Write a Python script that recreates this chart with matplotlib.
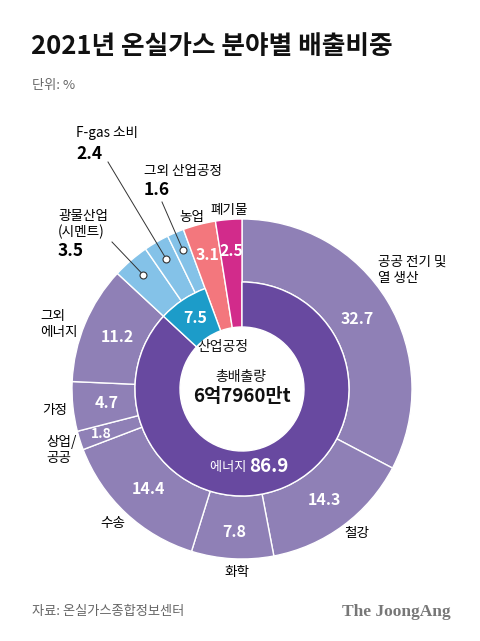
import numpy as np
import matplotlib
matplotlib.use("Agg")
import matplotlib.pyplot as plt

plt.rcParams['font.family'] = ['Noto Sans CJK KR', 'DejaVu Sans']

# ---- data ----
outer_labels = ['공공 전기 및\n열 생산', '철강', '화학', '수송', '상업/\n공공', '가정', '그외\n에너지',
                '광물산업\n(시멘트)', 'F-gas 소비', '그외 산업공정', '농업', '폐기물']
outer_values = [32.7, 14.3, 7.8, 14.4, 1.8, 4.7, 11.2, 3.5, 2.4, 1.6, 3.1, 2.5]
inner_labels = ['에너지', '산업공정', '농업', '폐기물']
inner_values = [86.9, 7.5, 3.1, 2.5]
total_label = '총배출량'
total_value = '6억7960만t'
title = '2021년 온실가스 분야별 배출비중'
unit = '단위: %'
source = '자료: 온실가스종합정보센터'
brand = 'The JoongAng'

# ---- style ----
W, H = 480, 641
C_OUT = '#8f80b6'
C_EN = '#6849a0'
C_IP = '#1c9cc9'
C_IPL = '#84c2e8'
C_AG = '#f3777d'
C_WA = '#d22b8b'
outer_colors = [C_OUT] * 7 + [C_IPL] * 3 + [C_AG, C_WA]
inner_colors = [C_EN, C_IP, C_AG, C_WA]

cx, cy = 242, H - 389
R1, R2, R0 = 170, 107, 62

def Y(py):
    return H - py

fig = plt.figure(figsize=(W / 100, H / 100), dpi=100)
ax = fig.add_axes([0, 0, 1, 1])

ow, _ = ax.pie(outer_values, radius=R1, center=(cx, cy), startangle=90, counterclock=False,
               colors=outer_colors, normalize=True,
               wedgeprops=dict(width=R1 - R2, edgecolor='white', linewidth=1.0))
for w in ow[-2:]:
    w.set_width(R1 - R0)
iw, _ = ax.pie(inner_values, radius=R2, center=(cx, cy), startangle=90, counterclock=False,
               colors=inner_colors, normalize=True,
               wedgeprops=dict(width=R2 - R0, edgecolor='white', linewidth=1.0))
for w in iw[-2:]:
    w.set_visible(False)

ax.set_xlim(0, W)
ax.set_ylim(0, H)
ax.set_aspect('equal')
ax.axis('off')

def pos(values, i, r):
    tot = sum(values)
    start = sum(values[:i])
    mid = (start + values[i] / 2) / tot * 2 * np.pi
    return cx + r * np.sin(mid), cy + r * np.cos(mid)

# value labels in outer ring (white)
val_r = [135, 138, 143, 137, 148, 136, 135, None, None, None, 138, 138]
val_fs = [11.5, 11.5, 11.5, 11.5, 10, 11.5, 11.5, None, None, None, 11.5, 11.5]
for i, v in enumerate(outer_values):
    if val_r[i] is None:
        continue
    x, y = pos(outer_values, i, val_r[i])
    ax.text(x, y, f'{v}', color='white', fontsize=val_fs[i], fontweight='bold',
            ha='center', va='center')

# inner labels
x, y = pos(inner_values, 1, 85)
ax.text(x, y, f'{inner_values[1]}', color='white', fontsize=11.5, fontweight='bold',
        ha='center', va='center')
ax.text(223, Y(347), inner_labels[1], fontsize=10, ha='center', va='center', color='#111111')
ax.text(249, Y(468), inner_labels[0] + ' ', fontsize=9.5, ha='right', va='center', color='white')
ax.text(249, Y(467), f'{inner_values[0]}', fontsize=13.5, fontweight='bold', ha='left',
        va='center', color='white')

# centre
ax.text(241, Y(377), total_label, fontsize=10, ha='center', va='center', color='#111111')
ax.text(242, Y(396), total_value, fontsize=13.5, fontweight='heavy', ha='center', va='center',
        color='#111111')

# outer category labels
lab_fs = 9.8
ax.text(378, Y(270), outer_labels[0], fontsize=lab_fs, ha='left', va='center', linespacing=1.25)
ax.text(357, Y(533), outer_labels[1], fontsize=lab_fs, ha='center', va='center')
ax.text(237, Y(572), outer_labels[2], fontsize=lab_fs, ha='center', va='center')
ax.text(113, Y(523), outer_labels[3], fontsize=lab_fs, ha='center', va='center')
ax.text(46, Y(450), outer_labels[4], fontsize=lab_fs, ha='left', va='center', linespacing=1.2)
ax.text(55, Y(410), outer_labels[5], fontsize=lab_fs, ha='center', va='center')
ax.text(40, Y(324), outer_labels[6], fontsize=lab_fs, ha='left', va='center', linespacing=1.2)
ax.text(192, Y(217), outer_labels[10], fontsize=lab_fs, ha='center', va='center')
ax.text(229, Y(210), outer_labels[11], fontsize=lab_fs, ha='center', va='center')

# industrial-process callouts
call = {7: ((58, 224), (58, 251), (112, 242)),
        8: ((76, 133), (76, 154), (108, 162)),
        9: ((144, 171), (144, 190), (162, 202))}
for i, ((lx, ly), (vx, vy), (sx, sy)) in call.items():
    ax.text(lx, Y(ly), outer_labels[i], fontsize=lab_fs, ha='left', va='center',
            linespacing=1.2)
    ax.text(vx, Y(vy), f'{outer_values[i]}', fontsize=12.5, fontweight='heavy', ha='left',
            va='center')
    px, py = pos(outer_values, i, 151)
    ax.plot([sx, px], [Y(sy), py], color='#333333', lw=0.7, zorder=5)
    ax.plot(px, py, 'o', ms=5, mfc='white', mec='#333333', mew=0.8, zorder=6)

# title / notes
ax.text(31, Y(47), title, fontsize=18.5, fontweight='heavy', ha='left', va='center',
        color='#111111')
ax.text(32, Y(85), unit, fontsize=9.5, ha='left', va='center', color='#666666')
ax.text(32, Y(612), source, fontsize=9.5, ha='left', va='center', color='#666666')
ax.text(451, Y(612), brand, fontsize=12.5, fontweight='bold', ha='right', va='center',
        color='#777777', family='Liberation Serif')

fig.savefig('out.png', dpi=100)
